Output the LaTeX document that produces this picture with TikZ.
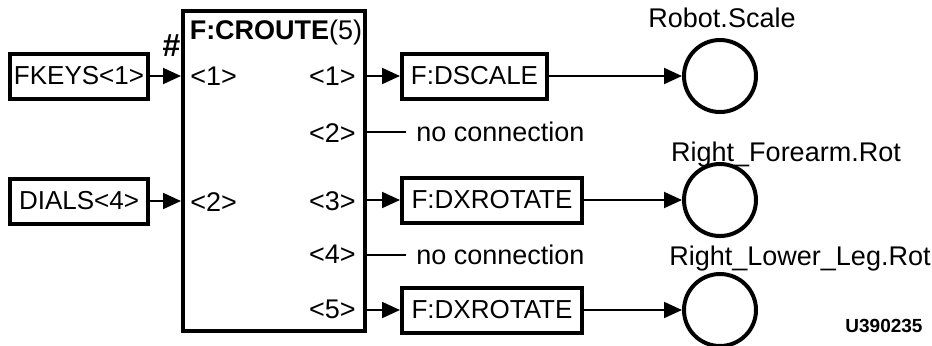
\documentclass[tikz,border=0pt]{standalone}
\usepackage{fontspec}
\setmainfont{Liberation Sans}
\usetikzlibrary{arrows.meta}

\begin{document}
\begin{tikzpicture}[x=0.5pt, y=-0.5pt,
  font=\fontsize{13.5}{15}\selectfont,
  portbox/.style={draw, line width=2pt, inner sep=0pt, minimum height=22.5pt,
                  font=\fontsize{13}{15}\selectfont},
  target/.style={draw, circle, line width=2pt, minimum size=36pt, inner sep=0pt},
  flow/.style={line width=1pt, -{Triangle[length=9pt, width=8pt]}},
  plain/.style={line width=1pt},
  port/.style={inner sep=0pt}]

  \useasboundingbox (0,0) rectangle (932,345);

  % ---- (1) input boxes on the left ----
  \node[portbox, minimum width=69pt] (fkeys) at (79,76)  {FKEYS<1>};
  \node[portbox, minimum width=69pt] (dials) at (79,201) {DIALS<4>};

  % ---- (2) the CROUTE function block ----
  \node[draw, line width=2pt, minimum width=91pt, minimum height=160pt,
        inner sep=0pt] (croute) at (274,171) {};
  \node (title) at (276,33) {\textbf{F:CROUTE}(5)};

  % input ports
  \node[port, anchor=west] (in1) at (190,76)  {<1>};
  \node[port, anchor=west] (in2) at (190,202) {<2>};

  % output ports
  \node[port, anchor=east] (out1) at (356,76)  {<1>};
  \node[port, anchor=east] (out2) at (356,133) {<2>};
  \node[port, anchor=east] (out3) at (356,201) {<3>};
  \node[port, anchor=east] (out4) at (356,254) {<4>};
  \node[port, anchor=east] (out5) at (356,309) {<5>};

  % ---- (3) inputs into the block ----
  \draw[flow] (fkeys) -- (fkeys -| croute.west);
  \draw[flow] (dials) -- (dials -| croute.west);
  \node[font=\fontsize{16}{18}\selectfont] (hash) at (171,46) {\bfseries\itshape\#};

  % ---- (4) functions on the outputs ----
  \node[portbox, minimum width=72.5pt] (dscale) at (474.5,76) {F:DSCALE};
  \node[portbox, minimum width=90pt]   (dxrotA) at (492,200)  {F:DXROTATE};
  \node[portbox, minimum width=90pt]   (dxrotB) at (492,310)  {F:DXROTATE};

  \draw[flow] (croute.east |- dscale) -- (dscale);
  \draw[flow] (croute.east |- dxrotA) -- (dxrotA);
  \draw[flow] (croute.east |- dxrotB) -- (dxrotB);

  % unused outputs
  \node[anchor=west, inner sep=0pt] (nocA) at (416,132) {no connection};
  \node[anchor=west, inner sep=0pt] (nocB) at (416,255) {no connection};
  \draw[plain] (croute.east |- nocA) -- ([xshift=-5pt]nocA.west);
  \draw[plain] (croute.east |- nocB) -- ([xshift=-5pt]nocB.west);

  % ---- (5) target variables ----
  \node[target] (robot)   at (720,76)  {};
  \node[target] (forearm) at (720,200) {};
  \node[target] (leg)     at (720,310) {};

  \node (robotlbl)   at (722,18)  {Robot.Scale};
  \node (forearmlbl) at (786,155) {Right\textunderscore Forearm.Rot};
  \node (leglbl)     at (800,259) {Right\textunderscore Lower\textunderscore Leg.Rot};

  \draw[flow] (dscale) -- (robot);
  \draw[flow] (dxrotA) -- (forearm);
  \draw[flow] (dxrotB) -- (leg);

  % ---- figure number ----
  \node[font=\fontsize{9.5}{11}\selectfont\bfseries] (figno) at (884,326) {U390235};

\end{tikzpicture}
\end{document}
